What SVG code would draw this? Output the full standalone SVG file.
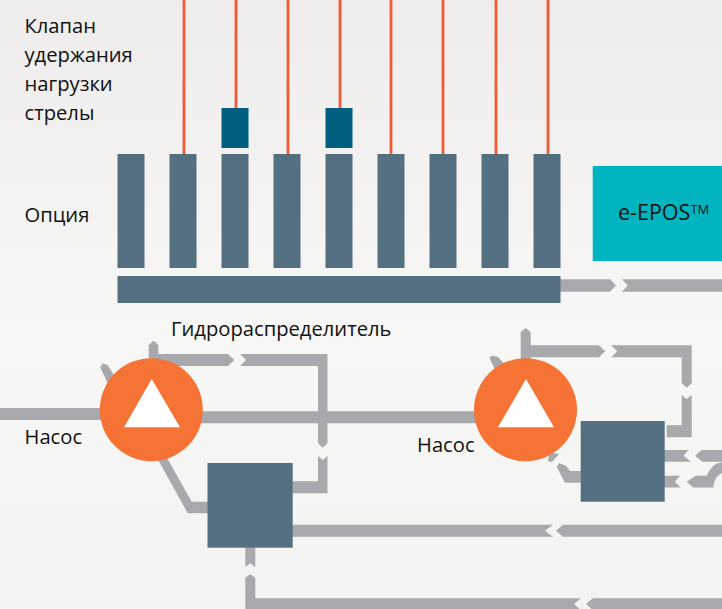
<svg xmlns="http://www.w3.org/2000/svg" width="722" height="609" viewBox="0 0 722 609">
<style>
.t{font-family:"Open Sans","Noto Sans","Liberation Sans",sans-serif;font-size:20.200px;fill:#111}
.b{fill:#546f80}
.o{stroke:#f05a36;stroke-width:2.800;fill:none}
.d{fill:#005f7f}
.p{fill:#a8a9ac}
.c{fill:#f47335}
.w{fill:#fff}
</style>
<defs><linearGradient id="bg" x1="0" y1="0" x2="0" y2="1"><stop offset="0" stop-color="#eeedec"/><stop offset=".55" stop-color="#f7f7f6"/><stop offset="1" stop-color="#f3f3f2"/></linearGradient></defs>
<rect width="722" height="609" fill="url(#bg)"/>
<g id="connectors">
<g id="signal-lines">
<path class="o" d="M184 0V154M236 0V108M288 0V154M340 0V108M391 0V154M443 0V154M496 0V154M548 0V154"/>
</g>
<g id="pipes">
<path class="p" d="M560 279.300H610L616 285.500L610 291.700H560Z"/>
<path class="p" d="M622 279.300H722V291.700H622L627.700 285.500Z"/>
<path class="p" d="M0 408H105V420H0Z"/>
<path class="p" d="M195 411.300H480V423.300H195Z"/>
<path class="p" d="M148.700 362V345L153.500 340.700L158.300 345V354H228L234.300 360L228 366H160V362Z"/>
<path class="p" d="M240 354H327.500V443L322.700 447.700L318 443V366H240L246 360Z"/>
<path class="p" d="M318 456L322.700 460L327.500 456V493.300H290V481.300H318Z"/>
<path class="p" d="M100 367L103 363.500L107.500 365L119 383L110 388Z"/>
<path class="p" d="M156 456L166 456L191.700 501.700H210V513.300H187.700Z"/>
<path class="p" d="M290 524.700H553L545 530.700L553 536.700H290Z"/>
<path class="p" d="M556 530.700L563 524.700H722V536.700H563Z"/>
<path class="p" d="M245.300 545H255.300V567L250.300 563.300L245.300 567Z"/>
<path class="p" d="M245.300 578L250.300 574L255.300 578V598.300H580.700L574 604L580.700 610H245.300Z"/>
<path class="p" d="M586 604L592.700 598.300H722V610H592.700Z"/>
<path class="p" d="M520.700 362V332.300L525.700 328L530.700 332.300V345.300H599L605.300 351.300L599 357.300H530.700V362Z"/>
<path class="p" d="M611 345.300H691.700V383.300L686.700 387.700L681.700 383.300V357.300H611L617.300 351.300Z"/>
<path class="p" d="M681.700 395L686.700 399L691.700 395V437.300H666.700V425.300H681.700Z"/>
<path class="p" d="M489.500 358L492 355.500L498 357L508 368L498 376Z"/>
<path class="p" d="M548 461L549.500 452.500L559 454L552 462Z"/>
<path class="p" d="M556.700 466.700L559 463.300L566 465.700L570 471H585V482.700H565Z"/>
<path class="p" d="M660 450H688.500L683.500 455.800L691 461.700H660Z"/>
<path class="p" d="M695 455.800L701.700 450H722V461.700H702.300Z"/>
<path class="p" d="M660 475.700H680L675 481.700L680.500 487.500H660Z"/>
<path class="p" d="M686.700 481.700L695.700 475.700H706.700C710 468 715 463 722 462.300V473C717 475 713.800 481 713.300 487.500H693.300Z"/>
</g>
</g>
<g id="valves">
<rect class="b" x="117.500" y="154" width="27" height="114"/>
<rect class="b" x="169.500" y="154" width="27" height="114"/>
<rect class="b" x="221.500" y="154" width="27" height="114"/>
<rect class="b" x="273.500" y="154" width="27" height="114"/>
<rect class="b" x="325.500" y="154" width="27" height="114"/>
<rect class="b" x="377.500" y="154" width="27" height="114"/>
<rect class="b" x="429.500" y="154" width="27" height="114"/>
<rect class="b" x="481.500" y="154" width="27" height="114"/>
<rect class="b" x="533.500" y="154" width="27" height="114"/>
</g>
<g id="option-valves">
<rect class="d" x="221.500" y="108" width="27" height="40"/>
<rect class="d" x="325.500" y="108" width="27" height="40"/>
</g>
<g id="manifold"><rect class="b" x="117.500" y="276" width="443" height="27"/></g>
<g id="epos"><rect x="592.700" y="166" width="129.300" height="95" fill="#00b5c0"/>
<text class="t" x="618" y="220" font-size="21.500" style="font-size:21.500px">e-EPOS<tspan dy="-6" style="font-size:13px">TM</tspan></text></g>
<g id="pump-left"><circle class="c" cx="151.300" cy="409.700" r="51.500"/><path class="w" d="M151.700 379L180 427.300H124Z"/></g>
<g id="pump-right"><circle class="c" cx="525.500" cy="409.700" r="51.500"/><path class="w" d="M526 379L554 427.300H498Z"/></g>
<g id="block-left"><rect class="b" x="207.500" y="463" width="85.200" height="84.700"/></g>
<g id="block-right"><rect class="b" x="580.700" y="421" width="84" height="80.700"/></g>
<g id="labels">
<text class="t" x="24.500" y="33">Клапан</text>
<text class="t" x="24.500" y="62">удержания</text>
<text class="t" x="24.500" y="91">нагрузки</text>
<text class="t" x="24.500" y="120">стрелы</text>
<text class="t" x="24.500" y="222">Опция</text>
<text class="t" x="171" y="336">Гидрораспределитель</text>
<text class="t" x="24.500" y="444">Насос</text>
<text class="t" x="417" y="452">Насос</text>
</g>
</svg>
